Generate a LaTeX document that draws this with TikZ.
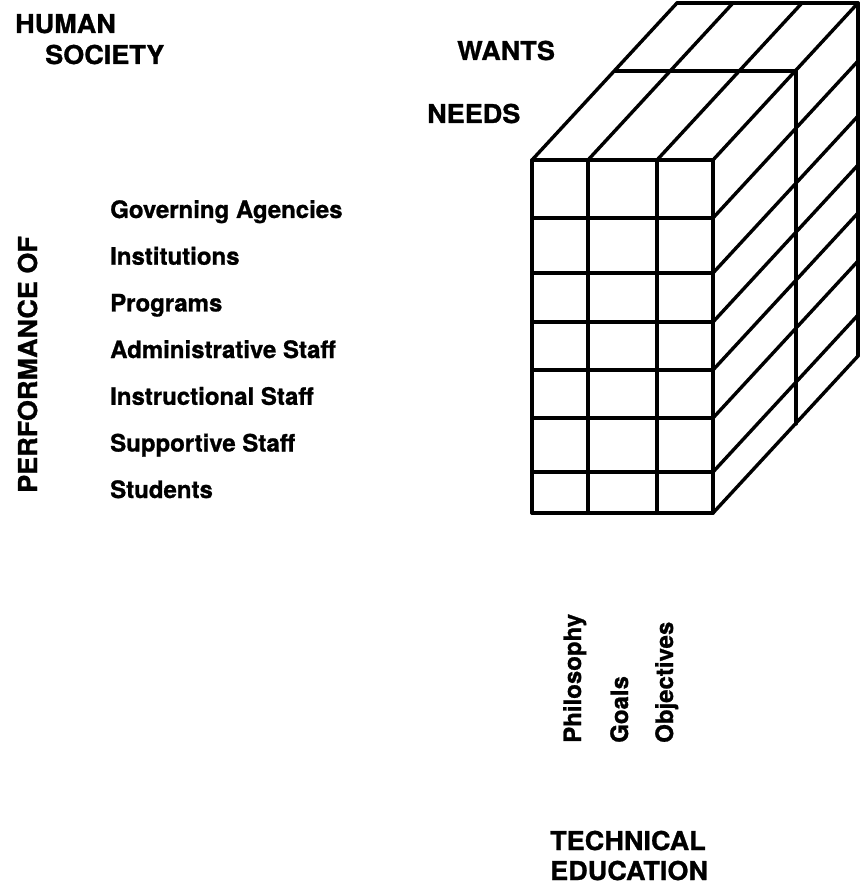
\documentclass[tikz,border=0pt]{standalone}
\usepackage{fontspec}
\setmainfont[FakeBold=1]{TeX Gyre Heros}
\newfontfamily\capsfont[FakeStretch=1.04,FakeBold=1]{TeX Gyre Heros}
\begin{document}
\begin{tikzpicture}[x=1pt,y=-1pt,
  lbl/.style={inner sep=0pt, anchor=base west, font=\fontsize{24}{28}\selectfont\bfseries},
  capslbl/.style={inner sep=0pt, anchor=base west, font=\capsfont\fontsize{26}{30}\selectfont\bfseries},
  edge/.style={line width=3.4pt, line cap=round, line join=round}]
\useasboundingbox (0,0) rectangle (861,893);
\fill[white] (0,0) rectangle (861,893);
\begin{scope}
  \clip (0,0) rectangle (861,893);
  % front face grid
  \foreach \x in {532,588,657,713} \draw[edge] (\x,160) -- (\x,513);
  \foreach \y in {160,218,273,322,370,418,472,513} \draw[edge] (532,\y) -- (713,\y);
  % top face
  \foreach \x in {532,588,657,713} \draw[edge] (\x,160) -- ++(145,-157);
  \draw[edge] (615,71) -- (796,71);
  \draw[edge] (677,3) -- (858,3);
  % right face
  \foreach \y in {218,273,322,370,418,472,513} \draw[edge] (713,\y) -- ++(145,-157);
  \draw[edge] (796,71) -- (796,424);
  \draw[edge] (858,3) -- (858,356);
\end{scope}
% labels
\node[capslbl] (human) at (15,33) {HUMAN};
\node[capslbl] (society) at (45,64) {SOCIETY};
\node[capslbl] (wants) at (457,60) {WANTS};
\node[capslbl] (needs) at (427,123) {NEEDS};
\node[capslbl, rotate=90] (perf) at (37,493) {PERFORMANCE OF};
\node[lbl] (gov) at (110,218) {Governing Agencies};
\node[lbl] (inst) at (110,264.7) {Institutions};
\node[lbl] (prog) at (110,311.4) {Programs};
\node[lbl] (adm) at (110,358) {Administrative Staff};
\node[lbl] (ins) at (110,404.8) {Instructional Staff};
\node[lbl] (sup) at (110,451.5) {Supportive Staff};
\node[lbl] (stu) at (110,498) {Students};
\node[lbl, rotate=90] (phil) at (581,743) {Philosophy};
\node[lbl, rotate=90] (goals) at (628,743) {Goals};
\node[lbl, rotate=90] (obj) at (673,743) {Objectives};
\node[capslbl] (tech) at (550,850) {TECHNICAL};
\node[capslbl] (edu) at (550,880) {EDUCATION};
\end{tikzpicture}
\end{document}
